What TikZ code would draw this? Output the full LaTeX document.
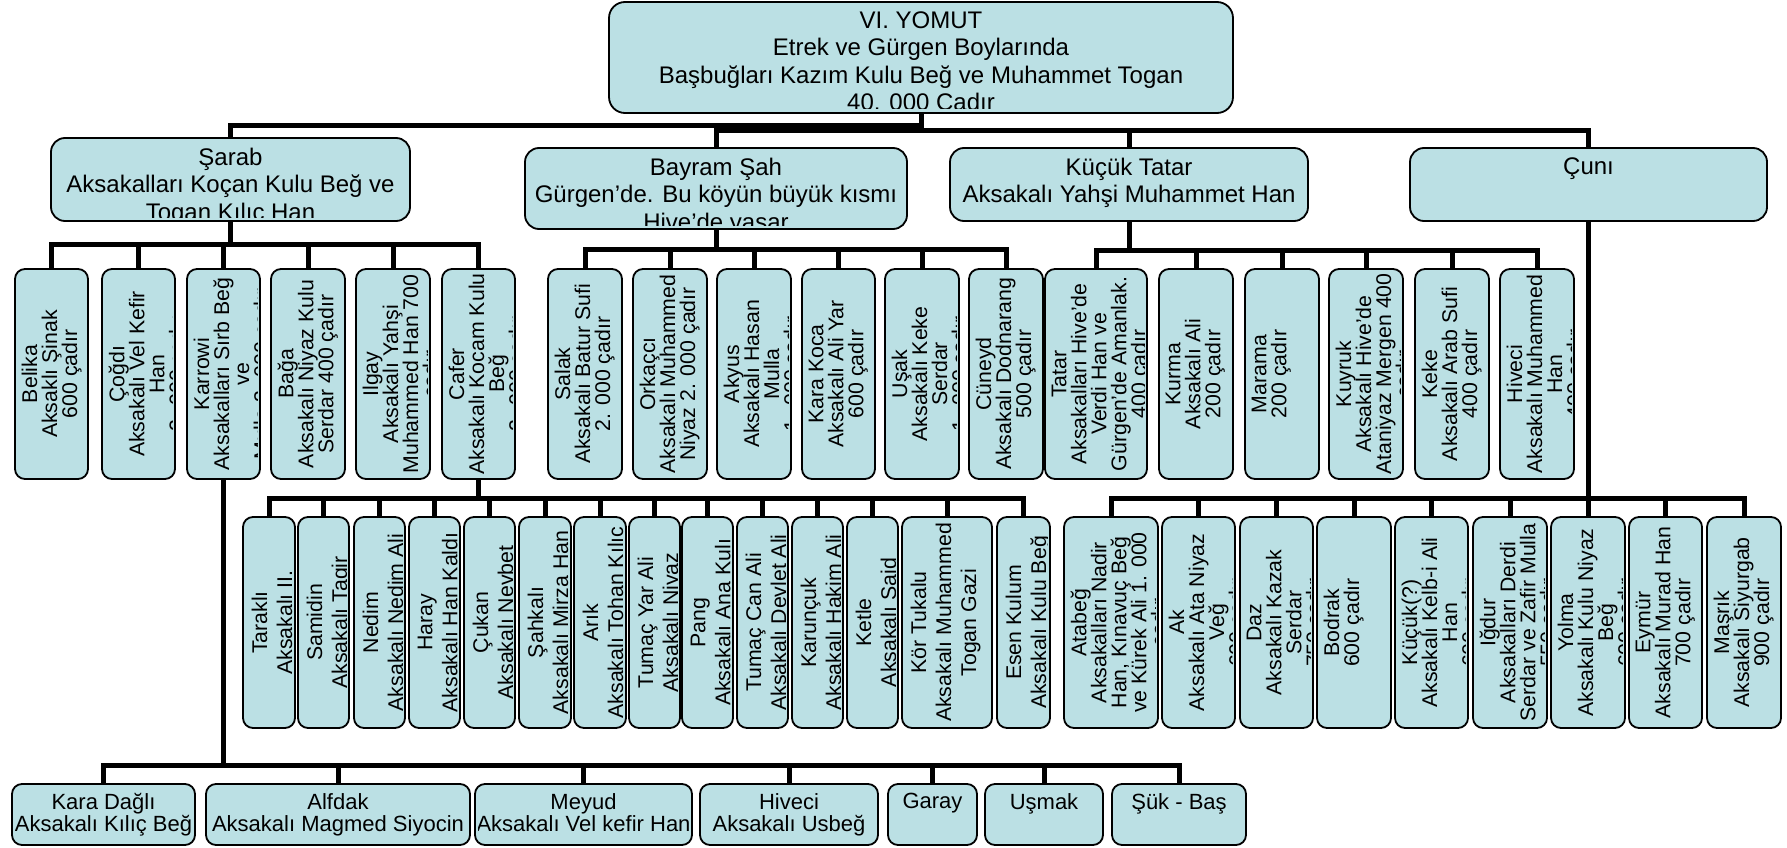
\documentclass[tikz,border=0pt]{standalone}
\usepackage{fontspec}
\setmainfont{Liberation Sans}
\definecolor{boxfill}{RGB}{187,224,228}
\pgfdeclarelayer{bg}
\pgfsetlayers{bg,main}
\newcommand\hfnt{\fontsize{24pt}{27.5pt}\selectfont\lineskiplimit=-100pt\relax}
\newcommand\vfnt{\fontsize{21.3pt}{20pt}\selectfont\lineskiplimit=-100pt\relax}
\newcommand\wfnt{\fontsize{21.3pt}{25pt}\selectfont\lineskiplimit=-100pt\relax}
\newcommand\bfnt{\fontsize{22pt}{22pt}\selectfont\lineskiplimit=-100pt\relax}
\tikzset{
  bx/.style={draw=black, line width=1.8pt, fill=boxfill, rounded corners=#1, inner sep=0pt, outer sep=0pt},
  bx/.default=10pt,
  cn/.style={draw=black, line width=5pt},
  htx/.style={anchor=north, align=center, inner sep=0pt, font=\hfnt},
  btx/.style={anchor=north, align=center, inner sep=0pt, font=\bfnt},
  vtx/.style={anchor=north, rotate=90, align=center, inner sep=0pt, font=\vfnt},
  wtx/.style={anchor=north, rotate=90, align=center, inner sep=0pt, font=\wfnt},
}
% horizontal box: name, x1, y1, x2, y2, radius, text
\newcommand{\mkH}[7]{%
  \node[bx=#6pt, minimum width={(#4-#2)*1pt}, minimum height={(#5-#3)*1pt}] (#1) at ({(#2+#4)/2},{(#3+#5)/2}) {};
  \begin{scope}
    \clip[rounded corners=#6pt] ({#2+4},{#3+4}) rectangle ({#4-4},{#5-4});
    \node[htx] (#1t) at ({(#2+#4)/2},{#3+9.5}) {#7};
  \end{scope}}
% bottom row box
\newcommand{\mkB}[6]{%
  \node[bx=10pt, minimum width={(#4-#2)*1pt}, minimum height={(#5-#3)*1pt}] (#1) at ({(#2+#4)/2},{(#3+#5)/2}) {};
  \begin{scope}
    \clip[rounded corners=8pt] ({#2+3},{#3+3}) rectangle ({#4-3},{#5-3});
    \node[btx] (#1t) at ({(#2+#4)/2},{#3+9}) {#6};
  \end{scope}}
% vertical (rotated text) box, tight spacing
\newcommand{\mkV}[6]{%
  \node[bx=10pt, minimum width={(#4-#2)*1pt}, minimum height={(#5-#3)*1pt}] (#1) at ({(#2+#4)/2},{(#3+#5)/2}) {};
  \begin{scope}
    \clip[rounded corners=8pt] ({#2+2.5},{#3+2.5}) rectangle ({#4-2.5},{#5-2.5});
    \node[vtx] (#1t) at ({#2+6.5},{(#3+#5)/2}) {#6};
  \end{scope}}
% vertical box, normal spacing
\newcommand{\mkW}[6]{%
  \node[bx=10pt, minimum width={(#4-#2)*1pt}, minimum height={(#5-#3)*1pt}] (#1) at ({(#2+#4)/2},{(#3+#5)/2}) {};
  \begin{scope}
    \clip[rounded corners=8pt] ({#2+2.5},{#3+2.5}) rectangle ({#4-2.5},{#5-2.5});
    \node[wtx] (#1t) at ({#2+8.5},{(#3+#5)/2}) {#6};
  \end{scope}}
\newcommand\conn[3]{\draw[cn] (#1.south) -- (#1.south |- #3) -| (#2.north);}
\begin{document}
\begin{tikzpicture}[x=1pt,y=-1pt]
\useasboundingbox (0,0) rectangle (1787,848);
% ---- level 1 and 2
\mkH{top}{609}{2}{1233}{113}{16}{VI. YOMUT\\Etrek ve Gürgen Boylarında\\Başbuğları Kazım Kulu Beğ ve Muhammet Togan\\40. 000 Çadır}
\mkH{sarab}{51}{138}{410}{221}{14}{Şarab\\Aksakalları Koçan Kulu Beğ ve\\Togan Kılıç Han}
\mkH{bayram}{525}{148}{907}{229}{14}{Bayram Şah\\Gürgen’de. Bu köyün büyük kısmı\\Hive’de yaşar}
\mkH{ktatar}{950}{148}{1308}{221}{14}{Küçük Tatar\\Aksakalı Yahşi Muhammet Han}
\mkH{cuni}{1410}{148}{1767}{221}{14}{Çunı}
% ---- row 1
\mkV{belika}{15}{269}{88}{479}{Belika\\Aksaklı Şinak\\600 çadır}
\mkV{cogdi}{102}{269}{175}{479}{Çoğdı\\Aksakalı Vel Kefir\\Han\\2. 000 çadır}
\mkV{karrowi}{187}{269}{260}{479}{Karrowi\\Aksakalları Sırb Beğ\\ve\\Mulla 3. 000 çadır}
\mkV{baga}{271}{269}{345}{479}{Bağa\\Aksakalı Niyaz Kulu\\Serdar 400 çadır}
\mkV{ilgay}{356}{269}{430}{479}{Ilgay\\Aksakalı Yahşi\\Muhammed Han 700\\çadır}
\mkV{cafer}{442}{269}{515}{479}{Cafer\\Aksakalı Kocam Kulu\\Beğ\\2. 000 çadır}
\mkV{salak}{548}{269}{622}{479}{Salak\\Aksakalı Batur Sufi\\2. 000 çadır}
\mkV{orkacci}{633}{269}{707}{479}{Orkaçcı\\Aksakalı Muhammed\\Niyaz 2. 000 çadır}
\mkV{akyus}{717}{269}{791}{479}{Akyus\\Aksakalı Hasan\\Mulla\\1. 000 çadır}
\mkV{karakoca}{802}{269}{875}{479}{Kara Koca\\Aksakalı Ali Yar\\600 çadır}
\mkV{usak}{885}{269}{959}{479}{Uşak\\Aksakalı Keke\\Serdar\\1. 000 çadır}
\mkV{cuneyd}{969}{269}{1043}{479}{Cüneyd\\Aksakalı Dodnarang\\500 çadır}
\mkV{tatar}{1045}{269}{1147}{479}{Tatar\\Aksakalları Hive’de\\Verdi Han ve\\Gürgen’de Amanlak.\\400 çadır}
\mkV{kurma}{1159}{269}{1233}{479}{Kurma\\Aksakalı Ali\\200 çadır}
\mkV{marama}{1245}{269}{1319}{479}{Marama\\200 çadır}
\mkV{kuyruk}{1329}{269}{1403}{479}{Kuyruk\\Aksakalı Hive’de\\Ataniyaz Mergen 400\\çadır}
\mkV{keke}{1415}{269}{1489}{479}{Keke\\Aksakalı Arab Sufi\\400 çadır}
\mkV{hivecia}{1500}{269}{1574}{479}{Hiveci\\Aksakalı Muhammed\\Han\\400 çadır}
% ---- row 2 (Cafer)
\mkW{tarakli}{243}{517}{295}{728}{Taraklı\\Aksakalı II.}
\mkW{samidin}{298}{517}{349}{728}{Samidin\\Aksakalı Tagir}
\mkW{nedim}{354}{517}{405}{728}{Nedim\\Aksakalı Nedim Ali}
\mkW{haray}{409}{517}{460}{728}{Haray\\Aksakalı Han Kaldı}
\mkW{cukan}{464}{517}{515}{728}{Çukan\\Aksakalı Nevbet}
\mkW{sahkali}{519}{517}{571}{728}{Şahkalı\\Aksakalı Mirza Han}
\mkW{arik}{574}{517}{626}{728}{Arık\\Aksakalı Tohan Kılıc}
\mkW{tumacyar}{629}{517}{680}{728}{Tumaç Yar Ali\\Aksakalı Niyaz}
\mkW{pang}{682}{517}{733}{728}{Pang\\Aksakalı Ana Kulı}
\mkW{tumaccan}{737}{517}{788}{728}{Tumaç Can Ali\\Aksakalı Devlet Ali}
\mkW{karuncuk}{792}{517}{843}{728}{Karunçuk\\Aksakalı Hakim Ali}
\mkW{ketle}{847}{517}{898}{728}{Ketle\\Aksakalı Said}
\mkW{kortukalu}{902}{517}{992}{728}{Kör Tukalu\\Aksakalı Muhammed\\Togan Gazi}
\mkW{esen}{997}{517}{1050}{728}{Esen Kulum\\Aksakalı Kulu Beğ}
% ---- row 2 (Çunı)
\mkV{atabeg}{1064}{517}{1158}{728}{Atabeğ\\Aksakalları Nadir\\Han, Kınavuç Beğ\\ve Kürek Ali 1. 000\\çadır}
\mkV{ak}{1162}{517}{1235}{728}{Ak\\Aksakalı Ata Niyaz\\Veğ\\600 çadır}
\mkV{daz}{1240}{517}{1313}{728}{Daz\\Aksakalı Kazak\\Serdar\\750 çadır}
\mkV{bodrak}{1317}{517}{1391}{728}{Bodrak\\600 çadır}
\mkV{kucuk}{1395}{517}{1468}{728}{Küçük(?)\\Aksakalı Kelb-i Ali\\Han\\600 çadır}
\mkV{igdur}{1473}{517}{1547}{728}{Iğdur\\Aksakalları Derdi\\Serdar ve Zafir Mulla\\550 çadır}
\mkV{yolma}{1551}{517}{1625}{728}{Yolma\\Aksakalı Kulu Niyaz\\Beğ\\600 çadır}
\mkV{eymur}{1629}{517}{1702}{728}{Eymür\\Aksakalı Murad Han\\700 çadır}
\mkV{masrik}{1707}{517}{1781}{728}{Maşrık\\Aksakalı Siyurgab\\900 çadır}
% ---- bottom row
\mkB{karadagli}{12}{784}{195}{845}{Kara Dağlı\\Aksakalı Kılıç Beğ}
\mkB{alfdak}{206}{784}{470}{845}{Alfdak\\Aksakalı Magmed Siyocin}
\mkB{meyud}{475}{784}{692}{845}{Meyud\\Aksakalı Vel kefir Han}
\mkB{hivecib}{700}{784}{878}{845}{Hiveci\\Aksakalı Usbeğ}
\mkB{garay}{888}{784}{977}{845}{Garay}
\mkB{usmak}{985}{784}{1103}{845}{Uşmak}
\mkB{sukbas}{1112}{784}{1246}{845}{Şük - Baş}
% ---- bar levels
\coordinate (yA) at (0,125.5);
\coordinate (yB) at (0,130.5);
\coordinate (yS) at (0,244.5);
\coordinate (yBy) at (0,249);
\coordinate (yT) at (0,250.5);
\coordinate (yC) at (0,498);
\coordinate (yK) at (0,765);
\begin{pgfonlayer}{bg}
\fill[white] (0,0) rectangle (1787,848);
\conn{top}{sarab}{yA}
\conn{top}{bayram}{yB}
\conn{top}{ktatar}{yB}
\conn{top}{cuni}{yB}
\foreach \c in {belika,cogdi,karrowi,baga,ilgay,cafer} {\conn{sarab}{\c}{yS}}
\foreach \c in {salak,orkacci,akyus,karakoca,usak,cuneyd} {\conn{bayram}{\c}{yBy}}
\foreach \c in {tatar,kurma,marama,kuyruk,keke,hivecia} {\conn{ktatar}{\c}{yT}}
\foreach \c in {tarakli,samidin,nedim,haray,cukan,sahkali,arik,tumacyar,pang,tumaccan,karuncuk,ketle,kortukalu,esen} {\conn{cafer}{\c}{yC}}
\foreach \c in {atabeg,ak,daz,bodrak,kucuk,igdur,yolma,eymur,masrik} {\conn{cuni}{\c}{yC}}
\foreach \c in {karadagli,alfdak,meyud,hivecib,garay,usmak,sukbas} {\conn{karrowi}{\c}{yK}}
\end{pgfonlayer}
\end{tikzpicture}
\end{document}
